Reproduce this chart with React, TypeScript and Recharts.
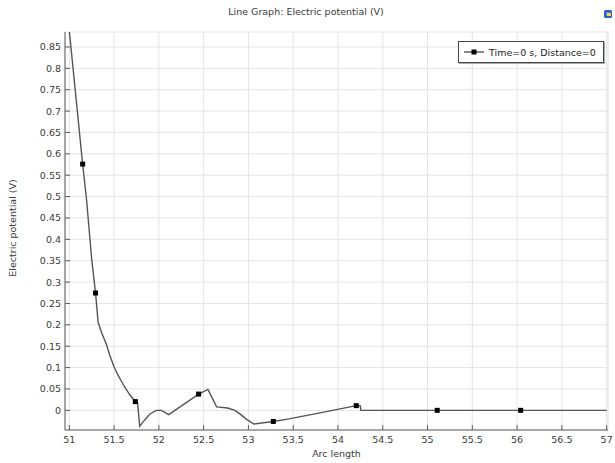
import { LineChart, Line, XAxis, YAxis, CartesianGrid, Legend } from 'recharts';

// values
const arcLength = [
  51.0, 51.149, 51.193, 51.249, 51.293, 51.322, 51.36, 51.415, 51.45, 51.497,
  51.54, 51.582, 51.62, 51.674, 51.7, 51.737, 51.762, 51.786, 51.84, 51.9,
  51.97, 52.03, 52.11, 52.444, 52.548, 52.645, 52.767, 52.85, 52.915, 52.98,
  53.06, 53.278, 53.452, 53.8, 54.204, 54.248, 54.256, 55.108, 56.04, 57.0,
];
const potential = [
  0.888, 0.576, 0.492, 0.356, 0.2745, 0.206, 0.182, 0.154, 0.13, 0.103,
  0.084, 0.068, 0.054, 0.037, 0.03, 0.0204, 0.018, -0.037, -0.023, -0.0085,
  0, 0, -0.01, 0.038, 0.049, 0.008, 0.0055, 0, -0.01, -0.021,
  -0.032, -0.026, -0.02, -0.006, 0.011, 0.011, 0, 0, 0, 0,
];
const markerAt = [51.149, 51.293, 51.737, 52.444, 53.278, 54.204, 55.108, 56.04];

const xTicks = [51, 51.5, 52, 52.5, 53, 53.5, 54, 54.5, 55, 55.5, 56, 56.5, 57];
const yTicks = [0, 0.05, 0.1, 0.15, 0.2, 0.25, 0.3, 0.35, 0.4, 0.45, 0.5, 0.55, 0.6, 0.65, 0.7, 0.75, 0.8, 0.85];

const seriesName = 'Time=0 s, Distance=0';

const data = arcLength.map((x, i) => ({
  x,
  v: potential[i],
  marker: markerAt.includes(x),
}));

const FONT = '"DejaVu Sans", sans-serif';
const FRAME = '#5c5c5c';
const TEXT = '#3a3a3a';
const X_DOMAIN: [number, number] = [50.952, 57.015];
const Y_DOMAIN: [number, number] = [-0.046, 0.885];

const BottomTick = ({ x, y, payload }: any) => (
  <g>
    <line x1={x} x2={x} y1={y} y2={y - 5} stroke={FRAME} />
    <text x={x} y={y + 13} textAnchor='middle' fontSize={9.5} fill={TEXT} fontFamily={FONT}>
      {payload.value}
    </text>
  </g>
);

const TopTick = ({ x, y }: any) => <line x1={x} x2={x} y1={y} y2={y + 5} stroke={FRAME} />;

const LeftTick = ({ x, y, payload }: any) => (
  <g>
    <line x1={x} x2={x + 5} y1={y} y2={y} stroke={FRAME} />
    <text x={x - 4} y={y + 3.5} textAnchor='end' fontSize={9.5} fill={TEXT} fontFamily={FONT}>
      {payload.value}
    </text>
  </g>
);

const RightTick = ({ x, y }: any) => <line x1={x} x2={x - 5} y1={y} y2={y} stroke={FRAME} />;

const MarkerDot = (props: any) => {
  const { cx, cy, payload, index } = props;
  if (!payload.marker) return <g key={index} />;
  return <rect key={index} x={cx - 2.5} y={cy - 2.5} width={5} height={5} fill='#000' />;
};

const LegendBox = () => (
  <div
    style={{
      border: '1px solid #444',
      boxShadow: '1px 1px 0 #aaa',
      background: '#fff',
      height: 20,
      display: 'flex',
      alignItems: 'center',
      fontFamily: FONT,
      fontSize: 9.5,
      color: '#222',
    }}
  >
    <svg width={30} height={10}>
      <line x1={5} x2={25} y1={5} y2={5} stroke='#555' strokeWidth={1.4} />
      <rect x={12.5} y={2.5} width={5} height={5} fill='#000' />
    </svg>
    <span>{seriesName}</span>
  </div>
);

export default function App() {
  return (
    <div style={{ position: 'absolute', left: 0, top: 0, width: 615, height: 463, background: '#fff' }}>
      <div
        style={{
          position: 'absolute',
          left: 0,
          top: 5,
          width: 612,
          textAlign: 'center',
          fontFamily: FONT,
          fontSize: 9.5,
          color: TEXT,
          lineHeight: '14px',
        }}
      >
        Line Graph: Electric potential (V)
      </div>
      <div
        style={{
          position: 'absolute',
          left: 604,
          top: 10,
          width: 8,
          height: 8,
          borderRadius: 2,
          background: 'linear-gradient(135deg, #6fa8ff, #1f4fc0)',
          boxShadow: 'inset 0 0 0 2px #2a5fd0',
        }}
      >
        <div style={{ position: 'absolute', left: 3, top: 3, width: 4, height: 3, background: '#ffd23a' }} />
      </div>
      <LineChart width={615} height={463} data={data} margin={{ top: 32, right: 7, bottom: 0, left: 0 }}>
        <CartesianGrid stroke='#e4e4e4' vertical horizontal />
        <XAxis
          dataKey='x'
          type='number'
          domain={X_DOMAIN}
          ticks={xTicks}
          allowDataOverflow
          height={33}
          tickSize={0}
          tickMargin={0}
          tickLine={false}
          axisLine={{ stroke: FRAME }}
          tick={<BottomTick />}
          interval={0}
          label={{ value: 'Arc length', position: 'insideBottom', offset: 6, fontSize: 9.5, fill: TEXT, fontFamily: FONT }}
        />
        <XAxis
          xAxisId='top'
          orientation='top'
          type='number'
          domain={X_DOMAIN}
          ticks={xTicks}
          allowDataOverflow
          height={0}
          tickSize={0}
          tickMargin={0}
          tickLine={false}
          axisLine={{ stroke: FRAME }}
          tick={<TopTick />}
          interval={0}
        />
        <YAxis
          type='number'
          domain={Y_DOMAIN}
          ticks={yTicks}
          allowDataOverflow
          width={65}
          tickSize={0}
          tickMargin={0}
          tickLine={false}
          axisLine={{ stroke: FRAME }}
          tick={<LeftTick />}
          interval={0}
          label={{
            content: () => (
              <text
                x={16}
                y={228}
                transform='rotate(-90 16 228)'
                textAnchor='middle'
                fontSize={9.5}
                fill={TEXT}
                fontFamily={FONT}
              >
                Electric potential (V)
              </text>
            ),
          }}
        />
        <YAxis
          yAxisId='right'
          orientation='right'
          type='number'
          domain={Y_DOMAIN}
          ticks={yTicks}
          allowDataOverflow
          width={0}
          tickSize={0}
          tickMargin={0}
          tickLine={false}
          axisLine={{ stroke: FRAME }}
          tick={<RightTick />}
          interval={0}
        />
        <Legend
          layout='horizontal'
          align='center'
          verticalAlign='middle'
          content={() => <LegendBox />}
          wrapperStyle={{ left: 458, top: 41, width: 146 }}
        />
        <Line
          type='linear'
          dataKey='v'
          name={seriesName}
          stroke='#555'
          strokeWidth={1.4}
          dot={MarkerDot}
          activeDot={false}
          isAnimationActive={false}
        />
      </LineChart>
    </div>
  );
}
